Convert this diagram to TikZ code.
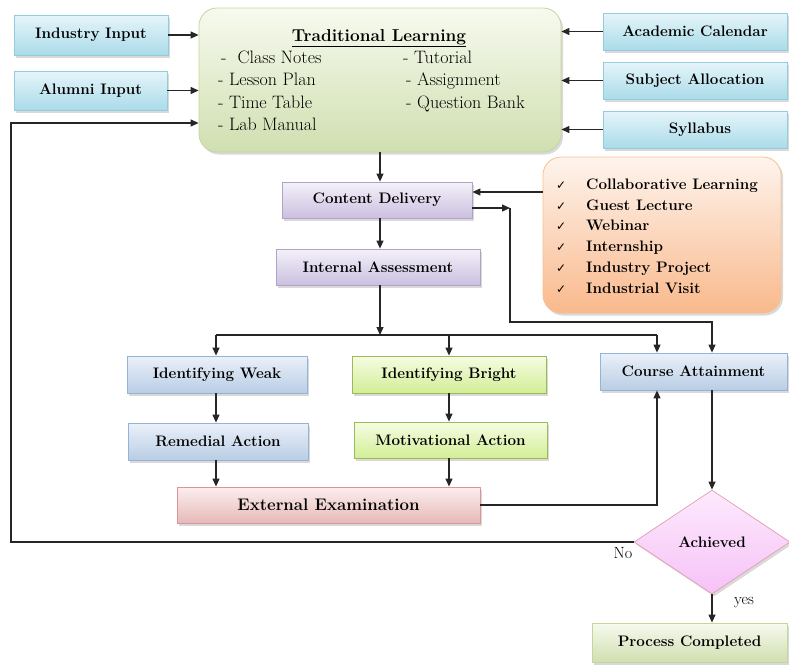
\documentclass[tikz,border=0pt]{standalone}
\usepackage{fontspec}
\newfontfamily\chkfont{DejaVu Sans}
\usetikzlibrary{arrows.meta,shapes.geometric,shadows,calc}
\definecolor{cyanT}{HTML}{E6F5FA}
\definecolor{cyanBo}{HTML}{AADBE9}
\definecolor{cyanD}{HTML}{93CDDD}
\definecolor{trT}{HTML}{F7FAEF}
\definecolor{trBo}{HTML}{D0DFB0}
\definecolor{trD}{HTML}{C3D69B}
\definecolor{lvT}{HTML}{F4F1F9}
\definecolor{lvBo}{HTML}{CBC0E0}
\definecolor{lvD}{HTML}{B2A2C7}
\definecolor{orT}{HTML}{FEF4ED}
\definecolor{orBo}{HTML}{F9B98C}
\definecolor{orD}{HTML}{FAC090}
\definecolor{blT}{HTML}{EBF1F9}
\definecolor{blBo}{HTML}{B9CDE5}
\definecolor{blD}{HTML}{95B3D7}
\definecolor{lmT}{HTML}{F6FCE3}
\definecolor{lmBo}{HTML}{D2EE96}
\definecolor{lmD}{HTML}{9BBB59}
\definecolor{pkT}{HTML}{FCEEEE}
\definecolor{pkBo}{HTML}{E6B9B8}
\definecolor{pkD}{HTML}{D99694}
\definecolor{dmT}{HTML}{FDEAFD}
\definecolor{dmBo}{HTML}{F6C2F6}
\definecolor{dmD}{HTML}{E4A4B8}
\begin{document}
\begin{tikzpicture}[x=1pt,y=-1pt,
 every node/.style={inner sep=0pt},
 shd/.style={drop shadow={shadow xshift=2pt,shadow yshift=-2.5pt,opacity=0.3}},
 box/.style={draw, rectangle, line width=0.8pt, shd, font=\fontsize{15.2}{18}\selectfont\bfseries},
 cyanbox/.style={box, draw=cyanD, top color=cyanT, bottom color=cyanBo},
 lavbox/.style={box, draw=lvD, top color=lvT, bottom color=lvBo},
 bluebox/.style={box, draw=blD, top color=blT, bottom color=blBo},
 limebox/.style={box, draw=lmD, top color=lmT, bottom color=lmBo},
 pinkbox/.style={box, draw=pkD, top color=pkT, bottom color=pkBo, font=\fontsize{16.8}{20}\selectfont\bfseries},
 greenbox/.style={box, draw=trD, top color=trT, bottom color=trBo},
 item/.style={anchor=base west, font=\fontsize{18}{22}\selectfont},
 oitem/.style={anchor=base west, font=\fontsize{15.2}{18}\selectfont\bfseries},
 chk/.style={anchor=base west, font=\chkfont\fontsize{12}{14}\selectfont},
 lbl/.style={font=\fontsize{16.2}{19}\selectfont},
 ln/.style={line width=1.2pt, draw=black!85},
 arr/.style={ln, -{Triangle[length=8pt,width=7pt]}},
]
\useasboundingbox (0,0) rectangle (789,664);

% top boxes
\node[cyanbox, minimum width=154pt, minimum height=40pt] (ind) at (91,35) {Industry Input};
\node[cyanbox, minimum width=153pt, minimum height=39pt] (alum) at (90.5,90.5) {Alumni Input};
\node[cyanbox, minimum width=184pt, minimum height=37pt] (acad) at (695,31.5) {Academic Calendar};
\node[cyanbox, minimum width=184pt, minimum height=37pt] (subj) at (695,80.5) {Subject Allocation};
\node[cyanbox, minimum width=184pt, minimum height=37pt] (syll) at (695,129.5) {\hspace*{10pt}Syllabus};

\node[draw=trD, line width=0.8pt, top color=trT, bottom color=trBo, rounded corners=18pt, shd,
      minimum width=362pt, minimum height=144pt] (trad) at (380,80) {};
\node[anchor=base, font=\fontsize{17.2}{20}\selectfont\bfseries] (ttl) at (379,41) {\underline{Traditional Learning}};
\node[item] (t1) at (221,63) {-\ \ Class Notes};
\node[item] (t2) at (218,85.5) {- Lesson Plan};
\node[item] (t3) at (218,108) {- Time Table};
\node[item] (t4) at (218,130.5) {- Lab Manual};
\node[item] (t5) at (403,63) {- Tutorial};
\node[item] (t6) at (406,85.5) {- Assignment};
\node[item] (t7) at (406,108) {- Question Bank};

% middle
\node[lavbox, minimum width=190pt, minimum height=36pt] (cd) at (377,200) {Content Delivery};
\node[lavbox, minimum width=204pt, minimum height=36pt] (ia) at (378,267) {Internal Assessment};

\node[draw=orD, line width=0.8pt, top color=orT, bottom color=orBo, rounded corners=18pt, shd,
      minimum width=238pt, minimum height=156pt] (orange) at (662,235) {};
\foreach \t [count=\i] in {Collaborative Learning, Guest Lecture, Webinar, Internship, Industry Project, Industrial Visit} {
  \node[chk] (c\i) at (556,{189.5+20.7*(\i-1)}) {✓};
  \node[oitem] (o\i) at (586,{189.5+20.7*(\i-1)}) {\t};
}

\node[bluebox, minimum width=180pt, minimum height=37pt] (weak) at (217,374.5) {Identifying Weak};
\node[bluebox, minimum width=180pt, minimum height=37pt] (rem) at (218,441.5) {Remedial Action};
\node[limebox, minimum width=194pt, minimum height=37pt] (bright) at (449,374.5) {Identifying Bright};
\node[limebox, minimum width=193pt, minimum height=36pt] (mot) at (450.5,440) {Motivational Action};
\node[pinkbox, minimum width=303pt, minimum height=36pt] (ext) at (328.5,505) {External Examination};
\node[bluebox, minimum width=187pt, minimum height=37pt] (ca) at (693.5,371.5) {Course Attainment};

\node[diamond, draw=dmD, line width=0.8pt, top color=dmT, bottom color=dmBo, shd, aspect=1.5,
      minimum width=156pt, minimum height=104pt, font=\fontsize{15.2}{18}\selectfont\bfseries] (ach) at (712,542) {Achieved};
\node[greenbox, minimum width=195pt, minimum height=39pt] (proc) at (689.5,642.5) {Process Completed};

\node[lbl] (no) at (623,553) {No};
\node[lbl] (yes) at (744,603) {yes};

% coordinates
\coordinate (k1) at (510,208);
\coordinate (k2) at (510,322);
\coordinate (k3) at (712,322);
\coordinate (jw) at (216,335);
\coordinate (jm) at (380,335);
\coordinate (jb) at (449,335);
\coordinate (jc) at (657,335);
\coordinate (fb1) at (11,542);
\coordinate (fb2) at (11,123);

% connectors
\draw[arr] (ind.east) -- (ind.east -| trad.west);
\draw[arr] (alum.east) -- (alum.east -| trad.west);
\draw[arr] (acad.west) -- (acad.west -| trad.east);
\draw[arr] (subj.west) -- (subj.west -| trad.east);
\draw[arr] (syll.west) -- (syll.west -| trad.east);
\draw[arr] (trad.south -| jm) -- (cd.north -| jm);
\draw[arr] (cd.south -| jm) -- (ia.north -| jm);
\draw[arr] ([yshift=8pt]cd.east -| orange.west) -- ([yshift=8pt]cd.east);
\draw[arr] ([yshift=-8pt]cd.east) -- (k1);
\draw[arr] (k1) -- (k2) -- (k3) -- (ca.north -| k3);
\draw[arr] (ia.south -| jm) -- (jm);
\draw[ln] (jw) -- (jc);
\draw[arr] (jw) -- (weak.north -| jw);
\draw[arr] (jb) -- (bright.north -| jb);
\draw[arr] (jc) -- (ca.north -| jc);
\draw[arr] (weak.south -| jw) -- (rem.north -| jw);
\draw[arr] (rem.south -| jw) -- (ext.north -| jw);
\draw[arr] (bright.south -| jb) -- (mot.north -| jb);
\draw[arr] (mot.south -| jb) -- (ext.north -| jb);
\draw[arr] (ext.east) -- (ext.east -| jc) -- (ca.south -| jc);
\draw[arr] (ca.south -| ach.north) -- (ach.north);
\draw[arr] (ach.west) -- (fb1) -- (fb2) -- (fb2 -| trad.west);
\draw[arr] (ach.south) -- (proc.north -| ach.south);
\end{tikzpicture}
\end{document}
